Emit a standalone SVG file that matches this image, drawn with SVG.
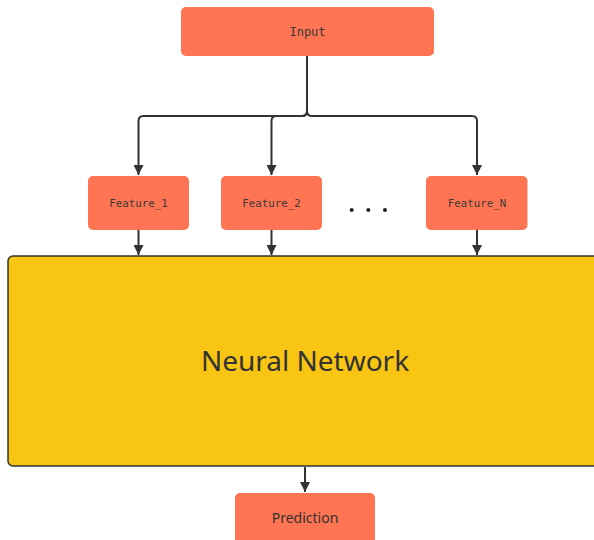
<svg xmlns="http://www.w3.org/2000/svg" width="594" height="540" viewBox="0 0 594 540">
<defs>
<marker id="ah" viewBox="0 0 10 10" refX="10" refY="5" markerWidth="10" markerHeight="10" markerUnits="userSpaceOnUse" orient="auto">
<path d="M0 0 L10 5 L0 10 Z" fill="#333333"/>
</marker>
</defs>
<style>
.box{fill:#FF7452;}
.mono{font-family:"DejaVu Sans Mono","Liberation Mono",monospace;fill:#3a3a3a;text-anchor:middle;dominant-baseline:central;}
.sans{font-family:"Noto Sans","Open Sans",sans-serif;fill:#333333;text-anchor:middle;dominant-baseline:central;}
.edge{fill:none;stroke:#333333;stroke-width:2;marker-end:url(#ah);}
</style>
<rect width="594" height="540" fill="#ffffff"/>
<g id="connectors">
<path class="edge" d="M307 56 V111 Q307 116 302 116 H143.5 Q138.5 116 138.5 121 V175"/>
<path class="edge" d="M307 56 V111 Q307 116 302 116 H276.5 Q271.5 116 271.5 121 V175"/>
<path class="edge" d="M307 56 V111 Q307 116 312 116 H472 Q477 116 477 121 V175"/>
<path class="edge" d="M138.5 230 V255"/>
<path class="edge" d="M271.5 230 V255"/>
<path class="edge" d="M477 230 V255"/>
<path class="edge" d="M305 467 V492"/>
</g>
<g id="input">
<rect class="box" x="181" y="7" width="253" height="49" rx="5"/>
<text class="mono" x="307.5" y="32" font-size="12">Input</text>
</g>
<g id="feature1">
<rect class="box" x="88" y="176" width="101" height="54" rx="5"/>
<text class="mono" x="138.5" y="203" font-size="10.8">Feature_1</text>
</g>
<g id="feature2">
<rect class="box" x="221" y="176" width="101" height="54" rx="5"/>
<text class="mono" x="271.5" y="203" font-size="10.8">Feature_2</text>
</g>
<g id="dots">
<circle cx="351.7" cy="210" r="2" fill="#222"/>
<circle cx="368.3" cy="210" r="2" fill="#222"/>
<circle cx="385" cy="210" r="2" fill="#222"/>
</g>
<g id="featureN">
<rect class="box" x="426" y="176" width="101.5" height="54" rx="5"/>
<text class="mono" x="477" y="203" font-size="10.8">Feature_N</text>
</g>
<g id="nn">
<rect x="8" y="256" width="600" height="210" rx="5" fill="#F8C513" stroke="#333333" stroke-width="1.5"/>
<text class="sans" x="305" y="360" font-size="28">Neural Network</text>
</g>
<g id="prediction">
<rect class="box" x="235" y="493" width="140" height="60" rx="5"/>
<text class="sans" x="305" y="517" font-size="14">Prediction</text>
</g>
</svg>
